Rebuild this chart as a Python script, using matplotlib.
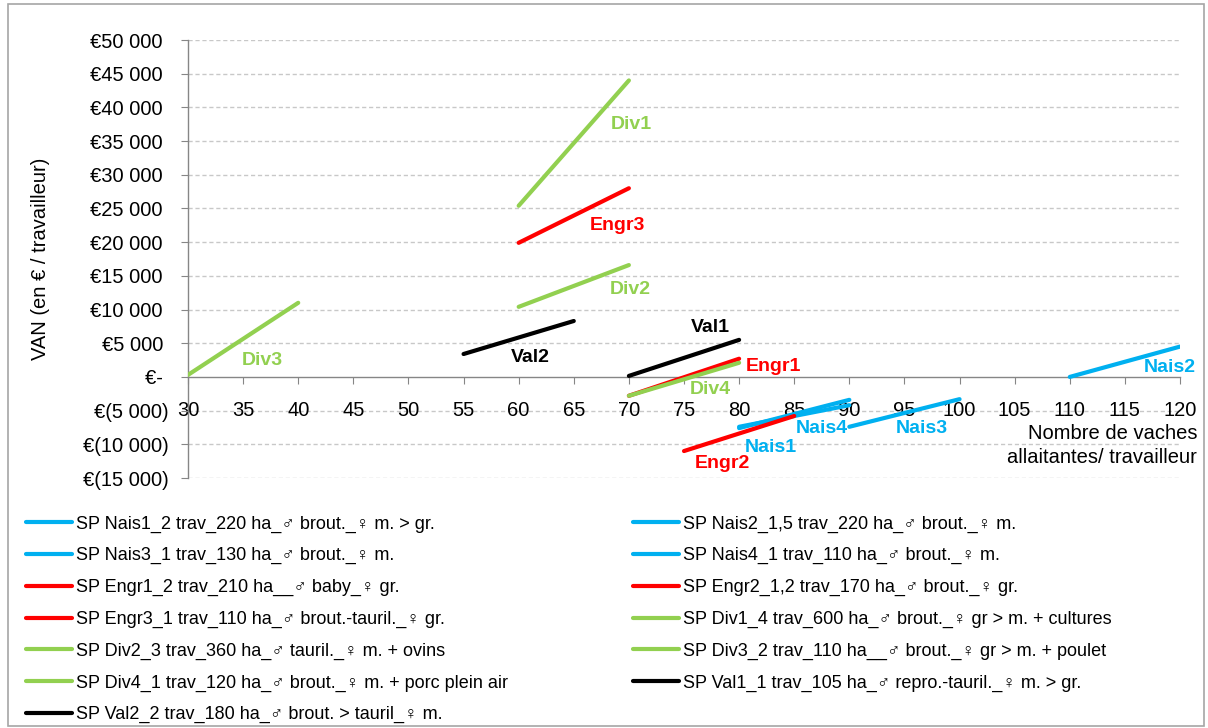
import matplotlib
matplotlib.use("Agg")
import matplotlib.pyplot as plt
from matplotlib.patches import Rectangle
from matplotlib.ticker import FixedLocator

plt.rcParams['font.family'] = ['Liberation Sans', 'DejaVu Sans']

# ---------------- data ----------------
codes = ["Nais1", "Nais2", "Nais3", "Nais4", "Engr1", "Engr2", "Engr3",
         "Div1", "Div2", "Div3", "Div4", "Val1", "Val2"]
legend_labels = [
    "SP Nais1_2 trav_220 ha_♂ brout._♀ m. > gr.",
    "SP Nais2_1,5 trav_220 ha_♂ brout._♀ m.",
    "SP Nais3_1 trav_130 ha_♂ brout._♀ m.",
    "SP Nais4_1 trav_110 ha_♂ brout._♀ m.",
    "SP Engr1_2 trav_210 ha__♂ baby_♀ gr.",
    "SP Engr2_1,2 trav_170 ha_♂ brout._♀ gr.",
    "SP Engr3_1 trav_110 ha_♂ brout.-tauril._♀ gr.",
    "SP Div1_4 trav_600 ha_♂ brout._♀ gr > m. + cultures",
    "SP Div2_3 trav_360 ha_♂ tauril._♀ m. + ovins",
    "SP Div3_2 trav_110 ha__♂ brout._♀ gr > m. + poulet",
    "SP Div4_1 trav_120 ha_♂ brout._♀ m. + porc plein air",
    "SP Val1_1 trav_105 ha_♂ repro.-tauril._♀ m. > gr.",
    "SP Val2_2 trav_180 ha_♂ brout. > tauril_♀ m.",
]
cows_start = [80, 110, 90, 80, 70, 75, 60, 60, 60, 30, 70, 70, 55]
cows_end = [90, 120, 100, 90, 80, 85, 70, 70, 70, 40, 80, 80, 65]
van_start = [-7600, 0, -7400, -7400, -2800, -11000, 19900, 25400, 10400, 300, -2800, 150, 3400]
van_end = [-3400, 4500, -3300, -4200, 2700, -5800, 28000, 44000, 16600, 11000, 2100, 5500, 8300]

y_ticks = [-15000, -10000, -5000, 0, 5000, 10000, 15000, 20000, 25000,
           30000, 35000, 40000, 45000, 50000]
y_tick_labels = ["€(15 000)", "€(10 000)", "€(5 000)", "€- ", "€5 000 ", "€10 000 ",
                 "€15 000 ", "€20 000 ", "€25 000 ", "€30 000 ", "€35 000 ",
                 "€40 000 ", "€45 000 ", "€50 000 "]
x_ticks = list(range(30, 121, 5))

# ---------------- style ----------------
BLUE, RED, GREEN, BLACK = "#00B0F0", "#FF0000", "#92D050", "#000000"
color_of = {"Nais": BLUE, "Engr": RED, "Div": GREEN, "Val": BLACK}


def col(code):
    for k, v in color_of.items():
        if code.startswith(k):
            return v


# label anchor positions (x, y in data units)
label_pos = {
    "Div1": (70.2, 37500), "Engr3": (69.0, 22450), "Div2": (70.1, 13000),
    "Div3": (36.7, 2500), "Val2": (61.1, 2860), "Val1": (77.4, 7300),
    "Engr1": (83.1, 1500), "Div4": (77.4, -1800), "Engr2": (78.5, -12800),
    "Nais1": (82.9, -10400), "Nais4": (87.5, -7600), "Nais3": (96.6, -7600),
    "Nais2": (119.1, 1450),
}

W, H = 1208, 728
fig = plt.figure(figsize=(W / 100, H / 100), dpi=100)
ax = fig.add_axes([188 / W, 1 - 478 / H, (1180 - 188) / W, (478 - 40) / H])

ax.set_xlim(30, 120)
ax.set_ylim(-15000, 50000)

for y in y_ticks:
    if y != 0:
        ax.axhline(y, color="#C8C8C8", lw=1, ls=(0, (3, 2)), zorder=0)

handles = {}
for i, c in enumerate(codes):
    ln, = ax.plot([cows_start[i], cows_end[i]], [van_start[i], van_end[i]],
                  color=col(c), lw=3, solid_capstyle="round", zorder=3,
                  label=legend_labels[i])
    handles[c] = ln
    lx, ly = label_pos[c]
    ax.text(lx, ly, c, color=col(c), fontsize=14, fontweight="bold",
            ha="center", va="center", zorder=4)

for s in ["top", "right"]:
    ax.spines[s].set_visible(False)
ax.spines["left"].set_position(("data", 30))
ax.spines["bottom"].set_position(("data", 0))
for s in ["left", "bottom"]:
    ax.spines[s].set_color("#868686")
    ax.spines[s].set_linewidth(1)

ax.yaxis.set_major_locator(FixedLocator(y_ticks))
ax.set_yticklabels(y_tick_labels)
ax.xaxis.set_major_locator(FixedLocator(x_ticks))
ax.set_xticklabels([str(x) for x in x_ticks])
ax.tick_params(axis="y", direction="out", length=5, color="#868686",
               labelsize=14.5, pad=9)
ax.tick_params(axis="x", direction="out", length=5, color="#868686",
               labelsize=14.5, pad=12)

ax.set_ylabel("VAN (en € / travailleur)", fontsize=14.5)
ax.yaxis.set_label_coords(-0.139, 0.5)

fig.text(1197 / W, 1 - 445.5 / H, "Nombre de vaches\nallaitantes/ travailleur",
         ha="right", va="center", fontsize=14.5, multialignment="right",
         linespacing=1.3)

# legends (two columns)
left_col = ["Nais1", "Nais3", "Engr1", "Engr3", "Div2", "Div4", "Val2"]
right_col = ["Nais2", "Nais4", "Engr2", "Div1", "Div3", "Val1"]
for colcodes, x0 in [(left_col, 21), (right_col, 628)]:
    fig.legend([handles[c] for c in colcodes],
               [legend_labels[codes.index(c)] for c in colcodes],
               loc="upper left", bbox_to_anchor=(x0 / W, 1 - 510 / H),
               frameon=False, fontsize=13, handlelength=2.55, handletextpad=0.2,
               labelspacing=0.81, borderaxespad=0, borderpad=0.3)

fig.patches.append(Rectangle((8 / W, 2 / H), (W - 12) / W, (H - 6) / H,
                             transform=fig.transFigure, fill=False,
                             edgecolor="#A6A6A6", lw=1.2))

fig.savefig("out.png", dpi=100)
